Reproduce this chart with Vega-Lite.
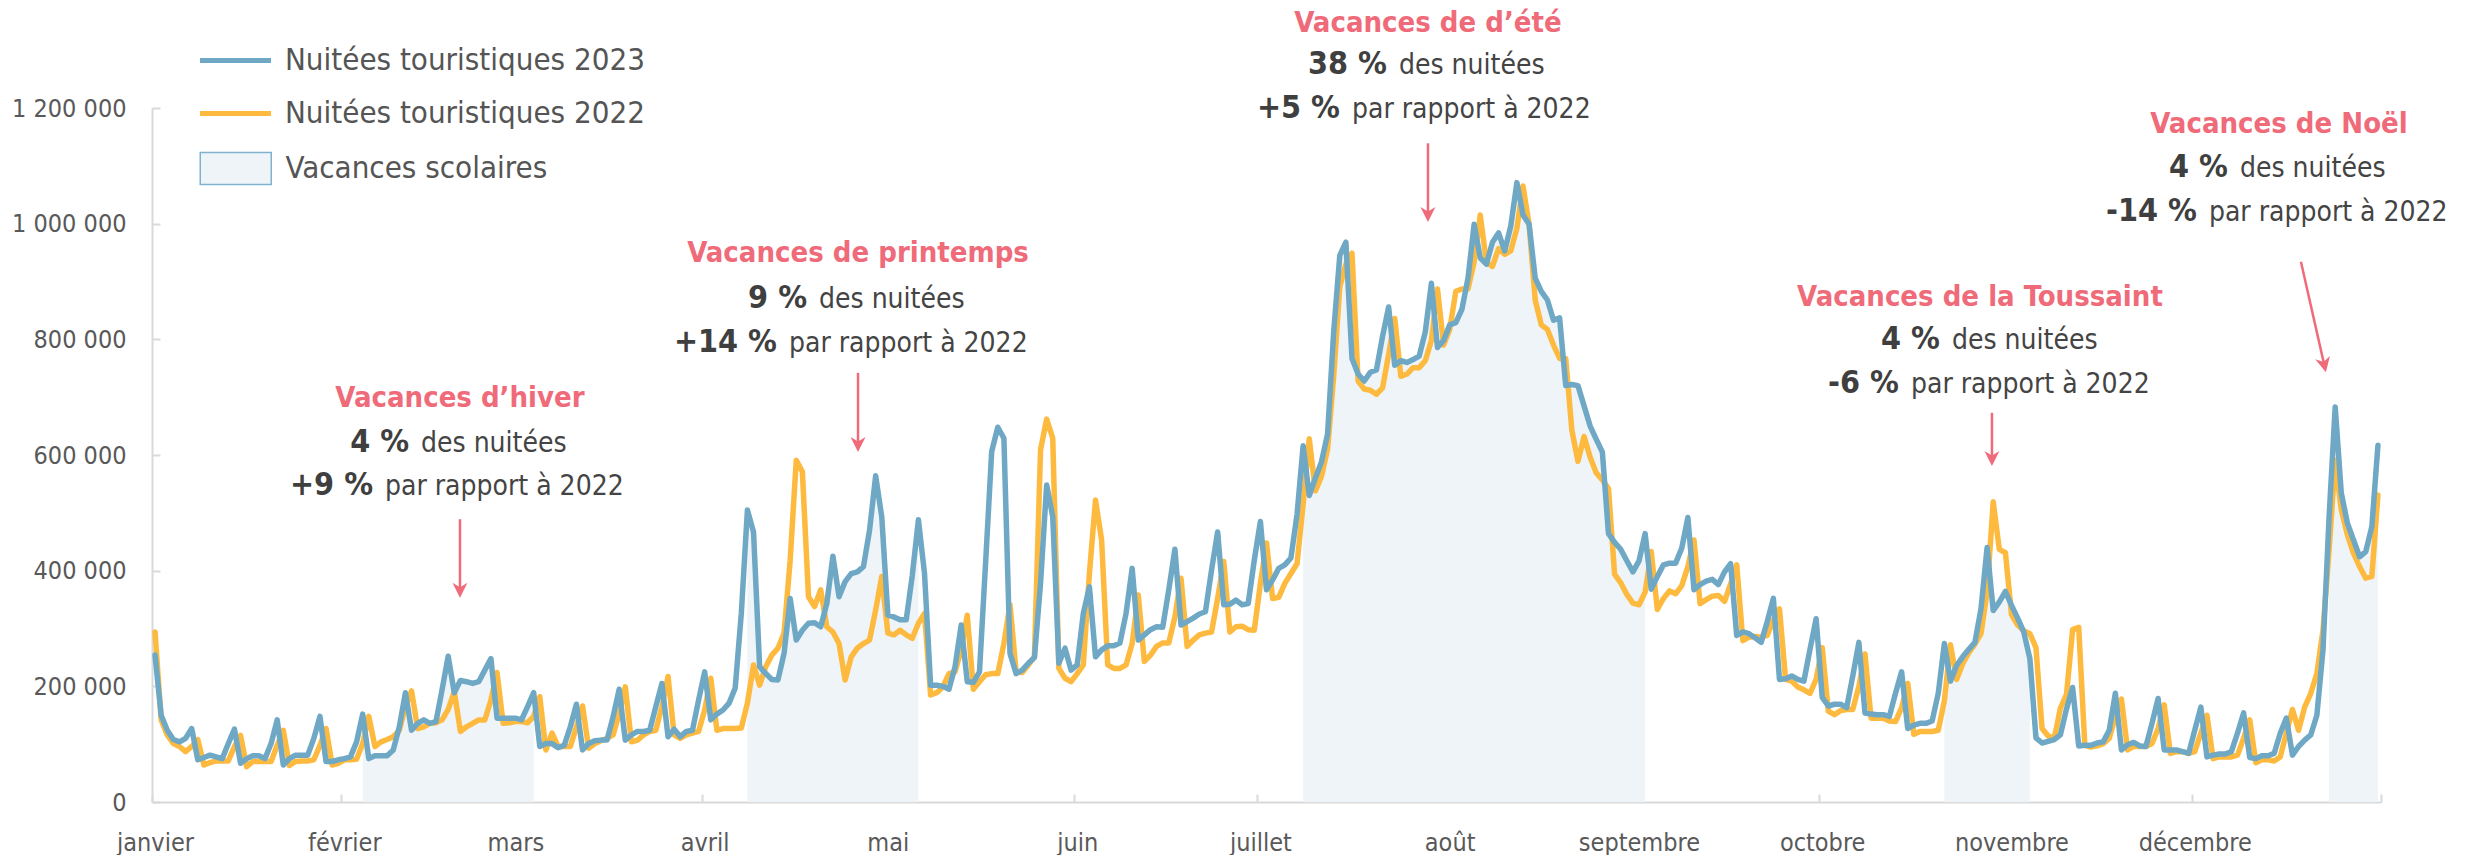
{
"$schema":"https://vega.github.io/schema/vega-lite/v6.json",
"width":2229,"height":694,
"autosize":{"type":"none"},
"padding":{"left":152,"top":108,"right":88,"bottom":53},
"background":"white",
"config":{"view":{"stroke":null},"font":"DejaVu Sans Condensed"},
"datasets":{
"nuitees":[
{"d":"2023-01-01T12:00:00Z","n2023":254000,"n2022":294000},
{"d":"2023-01-02T12:00:00Z","n2023":150000,"n2022":142000},
{"d":"2023-01-03T12:00:00Z","n2023":124000,"n2022":116000},
{"d":"2023-01-04T12:00:00Z","n2023":108000,"n2022":101000},
{"d":"2023-01-05T12:00:00Z","n2023":104000,"n2022":96000},
{"d":"2023-01-06T12:00:00Z","n2023":110000,"n2022":87000},
{"d":"2023-01-07T12:00:00Z","n2023":127000,"n2022":96000},
{"d":"2023-01-08T12:00:00Z","n2023":73000,"n2022":108000},
{"d":"2023-01-09T12:00:00Z","n2023":77000,"n2022":64000},
{"d":"2023-01-10T12:00:00Z","n2023":81000,"n2022":68000},
{"d":"2023-01-11T12:00:00Z","n2023":78000,"n2022":71000},
{"d":"2023-01-12T12:00:00Z","n2023":75000,"n2022":71000},
{"d":"2023-01-13T12:00:00Z","n2023":101000,"n2022":71000},
{"d":"2023-01-14T12:00:00Z","n2023":126000,"n2022":96000},
{"d":"2023-01-15T12:00:00Z","n2023":67000,"n2022":115000},
{"d":"2023-01-16T12:00:00Z","n2023":75000,"n2022":61000},
{"d":"2023-01-17T12:00:00Z","n2023":80000,"n2022":70000},
{"d":"2023-01-18T12:00:00Z","n2023":80000,"n2022":70000},
{"d":"2023-01-19T12:00:00Z","n2023":75000,"n2022":70000},
{"d":"2023-01-20T12:00:00Z","n2023":101000,"n2022":70000},
{"d":"2023-01-21T12:00:00Z","n2023":142000,"n2022":98000},
{"d":"2023-01-22T12:00:00Z","n2023":64000,"n2022":124000},
{"d":"2023-01-23T12:00:00Z","n2023":75000,"n2022":63000},
{"d":"2023-01-24T12:00:00Z","n2023":81000,"n2022":70000},
{"d":"2023-01-25T12:00:00Z","n2023":81000,"n2022":71000},
{"d":"2023-01-26T12:00:00Z","n2023":81000,"n2022":71000},
{"d":"2023-01-27T12:00:00Z","n2023":110000,"n2022":73000},
{"d":"2023-01-28T12:00:00Z","n2023":148000,"n2022":98000},
{"d":"2023-01-29T12:00:00Z","n2023":70000,"n2022":127000},
{"d":"2023-01-30T12:00:00Z","n2023":70000,"n2022":64000},
{"d":"2023-01-31T12:00:00Z","n2023":73000,"n2022":67000},
{"d":"2023-02-01T12:00:00Z","n2023":75000,"n2022":73000},
{"d":"2023-02-02T12:00:00Z","n2023":78000,"n2022":73000},
{"d":"2023-02-03T12:00:00Z","n2023":104000,"n2022":74000},
{"d":"2023-02-04T12:00:00Z","n2023":152000,"n2022":101000,"v":"hiver"},
{"d":"2023-02-05T12:00:00Z","n2023":75000,"n2022":148000,"v":"hiver"},
{"d":"2023-02-06T12:00:00Z","n2023":80000,"n2022":96000,"v":"hiver"},
{"d":"2023-02-07T12:00:00Z","n2023":80000,"n2022":104000,"v":"hiver"},
{"d":"2023-02-08T12:00:00Z","n2023":80000,"n2022":108000,"v":"hiver"},
{"d":"2023-02-09T12:00:00Z","n2023":90000,"n2022":113000,"v":"hiver"},
{"d":"2023-02-10T12:00:00Z","n2023":130000,"n2022":124000,"v":"hiver"},
{"d":"2023-02-11T12:00:00Z","n2023":189000,"n2022":165000,"v":"hiver"},
{"d":"2023-02-12T12:00:00Z","n2023":124000,"n2022":192000,"v":"hiver"},
{"d":"2023-02-13T12:00:00Z","n2023":136000,"n2022":127000,"v":"hiver"},
{"d":"2023-02-14T12:00:00Z","n2023":142000,"n2022":130000,"v":"hiver"},
{"d":"2023-02-15T12:00:00Z","n2023":136000,"n2022":136000,"v":"hiver"},
{"d":"2023-02-16T12:00:00Z","n2023":139000,"n2022":137000,"v":"hiver"},
{"d":"2023-02-17T12:00:00Z","n2023":194000,"n2022":142000,"v":"hiver"},
{"d":"2023-02-18T12:00:00Z","n2023":252000,"n2022":160000,"v":"hiver"},
{"d":"2023-02-19T12:00:00Z","n2023":189000,"n2022":191000,"v":"hiver"},
{"d":"2023-02-20T12:00:00Z","n2023":210000,"n2022":122000,"v":"hiver"},
{"d":"2023-02-21T12:00:00Z","n2023":208000,"n2022":130000,"v":"hiver"},
{"d":"2023-02-22T12:00:00Z","n2023":205000,"n2022":136000,"v":"hiver"},
{"d":"2023-02-23T12:00:00Z","n2023":208000,"n2022":142000,"v":"hiver"},
{"d":"2023-02-24T12:00:00Z","n2023":228000,"n2022":142000,"v":"hiver"},
{"d":"2023-02-25T12:00:00Z","n2023":248000,"n2022":176000,"v":"hiver"},
{"d":"2023-02-26T12:00:00Z","n2023":145000,"n2022":224000,"v":"hiver"},
{"d":"2023-02-27T12:00:00Z","n2023":145000,"n2022":136000,"v":"hiver"},
{"d":"2023-02-28T12:00:00Z","n2023":145000,"n2022":137000,"v":"hiver"},
{"d":"2023-03-01T12:00:00Z","n2023":145000,"n2022":139000,"v":"hiver"},
{"d":"2023-03-02T12:00:00Z","n2023":142000,"n2022":139000,"v":"hiver"},
{"d":"2023-03-03T12:00:00Z","n2023":165000,"n2022":137000,"v":"hiver"},
{"d":"2023-03-04T12:00:00Z","n2023":189000,"n2022":148000,"v":"hiver"},
{"d":"2023-03-05T12:00:00Z","n2023":96000,"n2022":182000},
{"d":"2023-03-06T12:00:00Z","n2023":101000,"n2022":90000},
{"d":"2023-03-07T12:00:00Z","n2023":101000,"n2022":119000},
{"d":"2023-03-08T12:00:00Z","n2023":94000,"n2022":96000},
{"d":"2023-03-09T12:00:00Z","n2023":98000,"n2022":96000},
{"d":"2023-03-10T12:00:00Z","n2023":130000,"n2022":96000},
{"d":"2023-03-11T12:00:00Z","n2023":169000,"n2022":130000},
{"d":"2023-03-12T12:00:00Z","n2023":90000,"n2022":166000},
{"d":"2023-03-13T12:00:00Z","n2023":101000,"n2022":93000},
{"d":"2023-03-14T12:00:00Z","n2023":106000,"n2022":101000},
{"d":"2023-03-15T12:00:00Z","n2023":107000,"n2022":106000},
{"d":"2023-03-16T12:00:00Z","n2023":107000,"n2022":110000},
{"d":"2023-03-17T12:00:00Z","n2023":147000,"n2022":116000},
{"d":"2023-03-18T12:00:00Z","n2023":195000,"n2022":153000},
{"d":"2023-03-19T12:00:00Z","n2023":107000,"n2022":199000},
{"d":"2023-03-20T12:00:00Z","n2023":116000,"n2022":104000},
{"d":"2023-03-21T12:00:00Z","n2023":122000,"n2022":107000},
{"d":"2023-03-22T12:00:00Z","n2023":122000,"n2022":116000},
{"d":"2023-03-23T12:00:00Z","n2023":124000,"n2022":122000},
{"d":"2023-03-24T12:00:00Z","n2023":165000,"n2022":124000},
{"d":"2023-03-25T12:00:00Z","n2023":205000,"n2022":165000},
{"d":"2023-03-26T12:00:00Z","n2023":113000,"n2022":217000},
{"d":"2023-03-27T12:00:00Z","n2023":126000,"n2022":116000},
{"d":"2023-03-28T12:00:00Z","n2023":113000,"n2022":110000},
{"d":"2023-03-29T12:00:00Z","n2023":122000,"n2022":116000},
{"d":"2023-03-30T12:00:00Z","n2023":124000,"n2022":119000},
{"d":"2023-03-31T12:00:00Z","n2023":176000,"n2022":122000},
{"d":"2023-04-01T12:00:00Z","n2023":225000,"n2022":159000},
{"d":"2023-04-02T12:00:00Z","n2023":142000,"n2022":214000},
{"d":"2023-04-03T12:00:00Z","n2023":152000,"n2022":124000},
{"d":"2023-04-04T12:00:00Z","n2023":159000,"n2022":127000},
{"d":"2023-04-05T12:00:00Z","n2023":171000,"n2022":127000},
{"d":"2023-04-06T12:00:00Z","n2023":197000,"n2022":127000},
{"d":"2023-04-07T12:00:00Z","n2023":326000,"n2022":128000},
{"d":"2023-04-08T12:00:00Z","n2023":505000,"n2022":171000,"v":"printemps"},
{"d":"2023-04-09T12:00:00Z","n2023":467000,"n2022":237000,"v":"printemps"},
{"d":"2023-04-10T12:00:00Z","n2023":234000,"n2022":202000,"v":"printemps"},
{"d":"2023-04-11T12:00:00Z","n2023":222000,"n2022":234000,"v":"printemps"},
{"d":"2023-04-12T12:00:00Z","n2023":212000,"n2022":254000,"v":"printemps"},
{"d":"2023-04-13T12:00:00Z","n2023":211000,"n2022":266000,"v":"printemps"},
{"d":"2023-04-14T12:00:00Z","n2023":257000,"n2022":292000,"v":"printemps"},
{"d":"2023-04-15T12:00:00Z","n2023":352000,"n2022":418000,"v":"printemps"},
{"d":"2023-04-16T12:00:00Z","n2023":280000,"n2022":591000,"v":"printemps"},
{"d":"2023-04-17T12:00:00Z","n2023":297000,"n2022":571000,"v":"printemps"},
{"d":"2023-04-18T12:00:00Z","n2023":309000,"n2022":355000,"v":"printemps"},
{"d":"2023-04-19T12:00:00Z","n2023":310000,"n2022":338000,"v":"printemps"},
{"d":"2023-04-20T12:00:00Z","n2023":303000,"n2022":367000,"v":"printemps"},
{"d":"2023-04-21T12:00:00Z","n2023":343000,"n2022":303000,"v":"printemps"},
{"d":"2023-04-22T12:00:00Z","n2023":425000,"n2022":294000,"v":"printemps"},
{"d":"2023-04-23T12:00:00Z","n2023":355000,"n2022":274000,"v":"printemps"},
{"d":"2023-04-24T12:00:00Z","n2023":381000,"n2022":211000,"v":"printemps"},
{"d":"2023-04-25T12:00:00Z","n2023":395000,"n2022":251000,"v":"printemps"},
{"d":"2023-04-26T12:00:00Z","n2023":398000,"n2022":266000,"v":"printemps"},
{"d":"2023-04-27T12:00:00Z","n2023":407000,"n2022":274000,"v":"printemps"},
{"d":"2023-04-28T12:00:00Z","n2023":470000,"n2022":280000,"v":"printemps"},
{"d":"2023-04-29T12:00:00Z","n2023":564000,"n2022":332000,"v":"printemps"},
{"d":"2023-04-30T12:00:00Z","n2023":493000,"n2022":390000,"v":"printemps"},
{"d":"2023-05-01T12:00:00Z","n2023":323000,"n2022":292000,"v":"printemps"},
{"d":"2023-05-02T12:00:00Z","n2023":320000,"n2022":289000,"v":"printemps"},
{"d":"2023-05-03T12:00:00Z","n2023":315000,"n2022":297000,"v":"printemps"},
{"d":"2023-05-04T12:00:00Z","n2023":315000,"n2022":289000,"v":"printemps"},
{"d":"2023-05-05T12:00:00Z","n2023":392000,"n2022":283000,"v":"printemps"},
{"d":"2023-05-06T12:00:00Z","n2023":488000,"n2022":309000,"v":"printemps"},
{"d":"2023-05-07T12:00:00Z","n2023":395000,"n2022":326000},
{"d":"2023-05-08T12:00:00Z","n2023":202000,"n2022":185000},
{"d":"2023-05-09T12:00:00Z","n2023":202000,"n2022":189000},
{"d":"2023-05-10T12:00:00Z","n2023":200000,"n2022":199000},
{"d":"2023-05-11T12:00:00Z","n2023":195000,"n2022":222000},
{"d":"2023-05-12T12:00:00Z","n2023":234000,"n2022":225000},
{"d":"2023-05-13T12:00:00Z","n2023":306000,"n2022":263000},
{"d":"2023-05-14T12:00:00Z","n2023":208000,"n2022":323000},
{"d":"2023-05-15T12:00:00Z","n2023":207000,"n2022":195000},
{"d":"2023-05-16T12:00:00Z","n2023":225000,"n2022":208000},
{"d":"2023-05-17T12:00:00Z","n2023":413000,"n2022":220000},
{"d":"2023-05-18T12:00:00Z","n2023":606000,"n2022":222000},
{"d":"2023-05-19T12:00:00Z","n2023":648000,"n2022":222000},
{"d":"2023-05-20T12:00:00Z","n2023":629000,"n2022":274000},
{"d":"2023-05-21T12:00:00Z","n2023":257000,"n2022":341000},
{"d":"2023-05-22T12:00:00Z","n2023":222000,"n2022":225000},
{"d":"2023-05-23T12:00:00Z","n2023":228000,"n2022":224000},
{"d":"2023-05-24T12:00:00Z","n2023":240000,"n2022":237000},
{"d":"2023-05-25T12:00:00Z","n2023":250000,"n2022":251000},
{"d":"2023-05-26T12:00:00Z","n2023":378000,"n2022":609000},
{"d":"2023-05-27T12:00:00Z","n2023":548000,"n2022":662000},
{"d":"2023-05-28T12:00:00Z","n2023":493000,"n2022":629000},
{"d":"2023-05-29T12:00:00Z","n2023":240000,"n2022":231000},
{"d":"2023-05-30T12:00:00Z","n2023":266000,"n2022":214000},
{"d":"2023-05-31T12:00:00Z","n2023":228000,"n2022":208000},
{"d":"2023-06-01T12:00:00Z","n2023":237000,"n2022":222000},
{"d":"2023-06-02T12:00:00Z","n2023":326000,"n2022":237000},
{"d":"2023-06-03T12:00:00Z","n2023":372000,"n2022":395000},
{"d":"2023-06-04T12:00:00Z","n2023":251000,"n2022":522000},
{"d":"2023-06-05T12:00:00Z","n2023":263000,"n2022":453000},
{"d":"2023-06-06T12:00:00Z","n2023":270000,"n2022":237000},
{"d":"2023-06-07T12:00:00Z","n2023":270000,"n2022":231000},
{"d":"2023-06-08T12:00:00Z","n2023":275000,"n2022":231000},
{"d":"2023-06-09T12:00:00Z","n2023":326000,"n2022":237000},
{"d":"2023-06-10T12:00:00Z","n2023":404000,"n2022":274000},
{"d":"2023-06-11T12:00:00Z","n2023":280000,"n2022":358000},
{"d":"2023-06-12T12:00:00Z","n2023":289000,"n2022":243000},
{"d":"2023-06-13T12:00:00Z","n2023":298000,"n2022":254000},
{"d":"2023-06-14T12:00:00Z","n2023":303000,"n2022":269000},
{"d":"2023-06-15T12:00:00Z","n2023":302000,"n2022":275000},
{"d":"2023-06-16T12:00:00Z","n2023":367000,"n2022":275000},
{"d":"2023-06-17T12:00:00Z","n2023":437000,"n2022":320000},
{"d":"2023-06-18T12:00:00Z","n2023":306000,"n2022":387000},
{"d":"2023-06-19T12:00:00Z","n2023":312000,"n2022":269000},
{"d":"2023-06-20T12:00:00Z","n2023":318000,"n2022":280000},
{"d":"2023-06-21T12:00:00Z","n2023":325000,"n2022":289000},
{"d":"2023-06-22T12:00:00Z","n2023":329000,"n2022":292000},
{"d":"2023-06-23T12:00:00Z","n2023":401000,"n2022":294000},
{"d":"2023-06-24T12:00:00Z","n2023":467000,"n2022":352000},
{"d":"2023-06-25T12:00:00Z","n2023":341000,"n2022":416000},
{"d":"2023-06-26T12:00:00Z","n2023":342000,"n2022":294000},
{"d":"2023-06-27T12:00:00Z","n2023":349000,"n2022":303000},
{"d":"2023-06-28T12:00:00Z","n2023":341000,"n2022":304000},
{"d":"2023-06-29T12:00:00Z","n2023":343000,"n2022":298000},
{"d":"2023-06-30T12:00:00Z","n2023":418000,"n2022":297000},
{"d":"2023-07-01T12:00:00Z","n2023":485000,"n2022":378000},
{"d":"2023-07-02T12:00:00Z","n2023":367000,"n2022":448000},
{"d":"2023-07-03T12:00:00Z","n2023":384000,"n2022":352000},
{"d":"2023-07-04T12:00:00Z","n2023":404000,"n2022":354000},
{"d":"2023-07-05T12:00:00Z","n2023":410000,"n2022":378000},
{"d":"2023-07-06T12:00:00Z","n2023":422000,"n2022":395000},
{"d":"2023-07-07T12:00:00Z","n2023":497000,"n2022":412000},
{"d":"2023-07-08T12:00:00Z","n2023":616000,"n2022":515000,"v":"ete"},
{"d":"2023-07-09T12:00:00Z","n2023":530000,"n2022":628000,"v":"ete"},
{"d":"2023-07-10T12:00:00Z","n2023":560000,"n2022":538000,"v":"ete"},
{"d":"2023-07-11T12:00:00Z","n2023":588000,"n2022":563000,"v":"ete"},
{"d":"2023-07-12T12:00:00Z","n2023":636000,"n2022":610000,"v":"ete"},
{"d":"2023-07-13T12:00:00Z","n2023":813000,"n2022":736000,"v":"ete"},
{"d":"2023-07-14T12:00:00Z","n2023":945000,"n2022":891000,"v":"ete"},
{"d":"2023-07-15T12:00:00Z","n2023":968000,"n2022":930000,"v":"ete"},
{"d":"2023-07-16T12:00:00Z","n2023":767000,"n2022":949000,"v":"ete"},
{"d":"2023-07-17T12:00:00Z","n2023":740000,"n2022":728000,"v":"ete"},
{"d":"2023-07-18T12:00:00Z","n2023":728000,"n2022":714000,"v":"ete"},
{"d":"2023-07-19T12:00:00Z","n2023":743000,"n2022":712000,"v":"ete"},
{"d":"2023-07-20T12:00:00Z","n2023":747000,"n2022":705000,"v":"ete"},
{"d":"2023-07-21T12:00:00Z","n2023":805000,"n2022":716000,"v":"ete"},
{"d":"2023-07-22T12:00:00Z","n2023":856000,"n2022":774000,"v":"ete"},
{"d":"2023-07-23T12:00:00Z","n2023":755000,"n2022":836000,"v":"ete"},
{"d":"2023-07-24T12:00:00Z","n2023":763000,"n2022":736000,"v":"ete"},
{"d":"2023-07-25T12:00:00Z","n2023":760000,"n2022":740000,"v":"ete"},
{"d":"2023-07-26T12:00:00Z","n2023":765000,"n2022":751000,"v":"ete"},
{"d":"2023-07-27T12:00:00Z","n2023":771000,"n2022":751000,"v":"ete"},
{"d":"2023-07-28T12:00:00Z","n2023":813000,"n2022":763000,"v":"ete"},
{"d":"2023-07-29T12:00:00Z","n2023":897000,"n2022":798000,"v":"ete"},
{"d":"2023-07-30T12:00:00Z","n2023":786000,"n2022":887000,"v":"ete"},
{"d":"2023-07-31T12:00:00Z","n2023":798000,"n2022":790000,"v":"ete"},
{"d":"2023-08-01T12:00:00Z","n2023":825000,"n2022":817000,"v":"ete"},
{"d":"2023-08-02T12:00:00Z","n2023":829000,"n2022":883000,"v":"ete"},
{"d":"2023-08-03T12:00:00Z","n2023":852000,"n2022":887000,"v":"ete"},
{"d":"2023-08-04T12:00:00Z","n2023":906000,"n2022":887000,"v":"ete"},
{"d":"2023-08-05T12:00:00Z","n2023":999000,"n2022":934000,"v":"ete"},
{"d":"2023-08-06T12:00:00Z","n2023":941000,"n2022":1015000,"v":"ete"},
{"d":"2023-08-07T12:00:00Z","n2023":930000,"n2022":934000,"v":"ete"},
{"d":"2023-08-08T12:00:00Z","n2023":968000,"n2022":926000,"v":"ete"},
{"d":"2023-08-09T12:00:00Z","n2023":984000,"n2022":957000,"v":"ete"},
{"d":"2023-08-10T12:00:00Z","n2023":953000,"n2022":947000,"v":"ete"},
{"d":"2023-08-11T12:00:00Z","n2023":996000,"n2022":953000,"v":"ete"},
{"d":"2023-08-12T12:00:00Z","n2023":1071000,"n2022":992000,"v":"ete"},
{"d":"2023-08-13T12:00:00Z","n2023":1015000,"n2022":1065000,"v":"ete"},
{"d":"2023-08-14T12:00:00Z","n2023":999000,"n2022":999000,"v":"ete"},
{"d":"2023-08-15T12:00:00Z","n2023":906000,"n2022":868000,"v":"ete"},
{"d":"2023-08-16T12:00:00Z","n2023":883000,"n2022":825000,"v":"ete"},
{"d":"2023-08-17T12:00:00Z","n2023":868000,"n2022":817000,"v":"ete"},
{"d":"2023-08-18T12:00:00Z","n2023":833000,"n2022":790000,"v":"ete"},
{"d":"2023-08-19T12:00:00Z","n2023":837000,"n2022":767000,"v":"ete"},
{"d":"2023-08-20T12:00:00Z","n2023":720000,"n2022":767000,"v":"ete"},
{"d":"2023-08-21T12:00:00Z","n2023":722000,"n2022":643000,"v":"ete"},
{"d":"2023-08-22T12:00:00Z","n2023":720000,"n2022":589000,"v":"ete"},
{"d":"2023-08-23T12:00:00Z","n2023":685000,"n2022":632000,"v":"ete"},
{"d":"2023-08-24T12:00:00Z","n2023":650000,"n2022":596000,"v":"ete"},
{"d":"2023-08-25T12:00:00Z","n2023":627000,"n2022":569000,"v":"ete"},
{"d":"2023-08-26T12:00:00Z","n2023":605000,"n2022":557000,"v":"ete"},
{"d":"2023-08-27T12:00:00Z","n2023":464000,"n2022":542000,"v":"ete"},
{"d":"2023-08-28T12:00:00Z","n2023":449000,"n2022":394000,"v":"ete"},
{"d":"2023-08-29T12:00:00Z","n2023":437000,"n2022":379000,"v":"ete"},
{"d":"2023-08-30T12:00:00Z","n2023":417000,"n2022":359000,"v":"ete"},
{"d":"2023-08-31T12:00:00Z","n2023":398000,"n2022":344000,"v":"ete"},
{"d":"2023-09-01T12:00:00Z","n2023":417000,"n2022":341000,"v":"ete"},
{"d":"2023-09-02T12:00:00Z","n2023":464000,"n2022":363000,"v":"ete"},
{"d":"2023-09-03T12:00:00Z","n2023":368000,"n2022":433000},
{"d":"2023-09-04T12:00:00Z","n2023":390000,"n2022":333000},
{"d":"2023-09-05T12:00:00Z","n2023":410000,"n2022":352000},
{"d":"2023-09-06T12:00:00Z","n2023":413000,"n2022":365000},
{"d":"2023-09-07T12:00:00Z","n2023":413000,"n2022":360000},
{"d":"2023-09-08T12:00:00Z","n2023":439000,"n2022":374000},
{"d":"2023-09-09T12:00:00Z","n2023":492000,"n2022":407000},
{"d":"2023-09-10T12:00:00Z","n2023":367000,"n2022":453000},
{"d":"2023-09-11T12:00:00Z","n2023":376000,"n2022":343000},
{"d":"2023-09-12T12:00:00Z","n2023":382000,"n2022":350000},
{"d":"2023-09-13T12:00:00Z","n2023":385000,"n2022":356000},
{"d":"2023-09-14T12:00:00Z","n2023":376000,"n2022":357000},
{"d":"2023-09-15T12:00:00Z","n2023":398000,"n2022":347000},
{"d":"2023-09-16T12:00:00Z","n2023":412000,"n2022":377000},
{"d":"2023-09-17T12:00:00Z","n2023":288000,"n2022":410000},
{"d":"2023-09-18T12:00:00Z","n2023":294000,"n2022":279000},
{"d":"2023-09-19T12:00:00Z","n2023":291000,"n2022":285000},
{"d":"2023-09-20T12:00:00Z","n2023":284000,"n2022":286000},
{"d":"2023-09-21T12:00:00Z","n2023":276000,"n2022":285000},
{"d":"2023-09-22T12:00:00Z","n2023":312000,"n2022":288000},
{"d":"2023-09-23T12:00:00Z","n2023":352000,"n2022":315000},
{"d":"2023-09-24T12:00:00Z","n2023":212000,"n2022":334000},
{"d":"2023-09-25T12:00:00Z","n2023":213000,"n2022":212000},
{"d":"2023-09-26T12:00:00Z","n2023":218000,"n2022":209000},
{"d":"2023-09-27T12:00:00Z","n2023":212000,"n2022":199000},
{"d":"2023-09-28T12:00:00Z","n2023":209000,"n2022":194000},
{"d":"2023-09-29T12:00:00Z","n2023":264000,"n2022":188000},
{"d":"2023-09-30T12:00:00Z","n2023":317000,"n2022":212000},
{"d":"2023-10-01T12:00:00Z","n2023":181000,"n2022":267000},
{"d":"2023-10-02T12:00:00Z","n2023":166000,"n2022":157000},
{"d":"2023-10-03T12:00:00Z","n2023":169000,"n2022":151000},
{"d":"2023-10-04T12:00:00Z","n2023":169000,"n2022":158000},
{"d":"2023-10-05T12:00:00Z","n2023":163000,"n2022":160000},
{"d":"2023-10-06T12:00:00Z","n2023":218000,"n2022":160000},
{"d":"2023-10-07T12:00:00Z","n2023":276000,"n2022":200000},
{"d":"2023-10-08T12:00:00Z","n2023":154000,"n2022":256000},
{"d":"2023-10-09T12:00:00Z","n2023":152000,"n2022":145000},
{"d":"2023-10-10T12:00:00Z","n2023":151000,"n2022":145000},
{"d":"2023-10-11T12:00:00Z","n2023":151000,"n2022":145000},
{"d":"2023-10-12T12:00:00Z","n2023":148000,"n2022":140000},
{"d":"2023-10-13T12:00:00Z","n2023":188000,"n2022":139000},
{"d":"2023-10-14T12:00:00Z","n2023":225000,"n2022":163000},
{"d":"2023-10-15T12:00:00Z","n2023":127000,"n2022":205000},
{"d":"2023-10-16T12:00:00Z","n2023":133000,"n2022":117000},
{"d":"2023-10-17T12:00:00Z","n2023":136000,"n2022":122000},
{"d":"2023-10-18T12:00:00Z","n2023":136000,"n2022":122000},
{"d":"2023-10-19T12:00:00Z","n2023":140000,"n2022":122000},
{"d":"2023-10-20T12:00:00Z","n2023":188000,"n2022":124000},
{"d":"2023-10-21T12:00:00Z","n2023":274000,"n2022":175000,"v":"toussaint"},
{"d":"2023-10-22T12:00:00Z","n2023":209000,"n2022":272000,"v":"toussaint"},
{"d":"2023-10-23T12:00:00Z","n2023":236000,"n2022":212000,"v":"toussaint"},
{"d":"2023-10-24T12:00:00Z","n2023":251000,"n2022":239000,"v":"toussaint"},
{"d":"2023-10-25T12:00:00Z","n2023":264000,"n2022":258000,"v":"toussaint"},
{"d":"2023-10-26T12:00:00Z","n2023":276000,"n2022":273000,"v":"toussaint"},
{"d":"2023-10-27T12:00:00Z","n2023":334000,"n2022":291000,"v":"toussaint"},
{"d":"2023-10-28T12:00:00Z","n2023":440000,"n2022":364000,"v":"toussaint"},
{"d":"2023-10-29T12:00:00Z","n2023":331000,"n2022":519000,"v":"toussaint"},
{"d":"2023-10-30T12:00:00Z","n2023":346000,"n2022":437000,"v":"toussaint"},
{"d":"2023-10-31T12:00:00Z","n2023":364000,"n2022":431000,"v":"toussaint"},
{"d":"2023-11-01T12:00:00Z","n2023":340000,"n2022":324000,"v":"toussaint"},
{"d":"2023-11-02T12:00:00Z","n2023":318000,"n2022":306000,"v":"toussaint"},
{"d":"2023-11-03T12:00:00Z","n2023":294000,"n2022":296000,"v":"toussaint"},
{"d":"2023-11-04T12:00:00Z","n2023":248000,"n2022":291000,"v":"toussaint"},
{"d":"2023-11-05T12:00:00Z","n2023":111000,"n2022":267000},
{"d":"2023-11-06T12:00:00Z","n2023":102000,"n2022":127000},
{"d":"2023-11-07T12:00:00Z","n2023":105000,"n2022":114000},
{"d":"2023-11-08T12:00:00Z","n2023":108000,"n2022":110000},
{"d":"2023-11-09T12:00:00Z","n2023":116000,"n2022":162000},
{"d":"2023-11-10T12:00:00Z","n2023":161000,"n2022":186000},
{"d":"2023-11-11T12:00:00Z","n2023":198000,"n2022":298000},
{"d":"2023-11-12T12:00:00Z","n2023":97000,"n2022":302000},
{"d":"2023-11-13T12:00:00Z","n2023":98000,"n2022":98000},
{"d":"2023-11-14T12:00:00Z","n2023":98000,"n2022":95000},
{"d":"2023-11-15T12:00:00Z","n2023":102000,"n2022":97000},
{"d":"2023-11-16T12:00:00Z","n2023":104000,"n2022":101000},
{"d":"2023-11-17T12:00:00Z","n2023":124000,"n2022":110000},
{"d":"2023-11-18T12:00:00Z","n2023":188000,"n2022":148000},
{"d":"2023-11-19T12:00:00Z","n2023":90000,"n2022":178000},
{"d":"2023-11-20T12:00:00Z","n2023":99000,"n2022":90000},
{"d":"2023-11-21T12:00:00Z","n2023":103000,"n2022":96000},
{"d":"2023-11-22T12:00:00Z","n2023":97000,"n2022":96000},
{"d":"2023-11-23T12:00:00Z","n2023":96000,"n2022":96000},
{"d":"2023-11-24T12:00:00Z","n2023":136000,"n2022":101000},
{"d":"2023-11-25T12:00:00Z","n2023":179000,"n2022":127000},
{"d":"2023-11-26T12:00:00Z","n2023":90000,"n2022":168000},
{"d":"2023-11-27T12:00:00Z","n2023":90000,"n2022":84000},
{"d":"2023-11-28T12:00:00Z","n2023":90000,"n2022":87000},
{"d":"2023-11-29T12:00:00Z","n2023":87000,"n2022":87000},
{"d":"2023-11-30T12:00:00Z","n2023":84000,"n2022":84000},
{"d":"2023-12-01T12:00:00Z","n2023":124000,"n2022":87000},
{"d":"2023-12-02T12:00:00Z","n2023":164000,"n2022":119000},
{"d":"2023-12-03T12:00:00Z","n2023":78000,"n2022":150000},
{"d":"2023-12-04T12:00:00Z","n2023":81000,"n2022":75000},
{"d":"2023-12-05T12:00:00Z","n2023":83000,"n2022":78000},
{"d":"2023-12-06T12:00:00Z","n2023":83000,"n2022":78000},
{"d":"2023-12-07T12:00:00Z","n2023":87000,"n2022":78000},
{"d":"2023-12-08T12:00:00Z","n2023":119000,"n2022":81000},
{"d":"2023-12-09T12:00:00Z","n2023":154000,"n2022":110000},
{"d":"2023-12-10T12:00:00Z","n2023":77000,"n2022":142000},
{"d":"2023-12-11T12:00:00Z","n2023":75000,"n2022":68000},
{"d":"2023-12-12T12:00:00Z","n2023":80000,"n2022":73000},
{"d":"2023-12-13T12:00:00Z","n2023":80000,"n2022":73000},
{"d":"2023-12-14T12:00:00Z","n2023":84000,"n2022":71000},
{"d":"2023-12-15T12:00:00Z","n2023":119000,"n2022":78000},
{"d":"2023-12-16T12:00:00Z","n2023":145000,"n2022":119000},
{"d":"2023-12-17T12:00:00Z","n2023":81000,"n2022":160000},
{"d":"2023-12-18T12:00:00Z","n2023":96000,"n2022":124000},
{"d":"2023-12-19T12:00:00Z","n2023":107000,"n2022":164000},
{"d":"2023-12-20T12:00:00Z","n2023":116000,"n2022":188000},
{"d":"2023-12-21T12:00:00Z","n2023":150000,"n2022":222000},
{"d":"2023-12-22T12:00:00Z","n2023":263000,"n2022":297000},
{"d":"2023-12-23T12:00:00Z","n2023":493000,"n2022":436000,"v":"noel"},
{"d":"2023-12-24T12:00:00Z","n2023":683000,"n2022":591000,"v":"noel"},
{"d":"2023-12-25T12:00:00Z","n2023":534000,"n2022":505000,"v":"noel"},
{"d":"2023-12-26T12:00:00Z","n2023":482000,"n2022":462000,"v":"noel"},
{"d":"2023-12-27T12:00:00Z","n2023":453000,"n2022":430000,"v":"noel"},
{"d":"2023-12-28T12:00:00Z","n2023":424000,"n2022":407000,"v":"noel"},
{"d":"2023-12-29T12:00:00Z","n2023":433000,"n2022":387000,"v":"noel"},
{"d":"2023-12-30T12:00:00Z","n2023":476000,"n2022":390000,"v":"noel"},
{"d":"2023-12-31T12:00:00Z","n2023":617000,"n2022":531000,"v":"noel"}
],
"titres":[
{"x":"2023-02-20T10:20:00Z","y":683000,"t":"Vacances d’hiver"},
{"x":"2023-04-26T14:40:00Z","y":934000,"t":"Vacances de printemps"},
{"x":"2023-07-28T22:35:00Z","y":1331000,"t":"Vacances de d’été"},
{"x":"2023-10-27T07:55:00Z","y":858000,"t":"Vacances de la Toussaint"},
{"x":"2023-12-15T07:00:00Z","y":1157000,"t":"Vacances de Noël"}
],
"gras":[
{"x":"2023-02-13T01:40:00Z","y":605000,"t":"4 %"},
{"x":"2023-02-07T04:05:00Z","y":531000,"t":"+9 %"},
{"x":"2023-04-19T05:45:00Z","y":854000,"t":"9 %"},
{"x":"2023-04-14T07:40:00Z","y":778000,"t":"+14 %"},
{"x":"2023-07-23T05:00:00Z","y":1259000,"t":"38 %"},
{"x":"2023-07-15T12:15:00Z","y":1183000,"t":"+5 %"},
{"x":"2023-10-21T18:15:00Z","y":783000,"t":"4 %"},
{"x":"2023-10-15T01:10:00Z","y":707000,"t":"-6 %"},
{"x":"2023-12-07T22:05:00Z","y":1081000,"t":"4 %"},
{"x":"2023-12-02T20:10:00Z","y":1005000,"t":"-14 %"}
],
"textes":[
{"x":"2023-02-13T01:40:00Z","y":605000,"t":"des nuitées"},
{"x":"2023-02-07T04:05:00Z","y":531000,"t":"par rapport à 2022"},
{"x":"2023-04-19T05:45:00Z","y":854000,"t":"des nuitées"},
{"x":"2023-04-14T07:40:00Z","y":778000,"t":"par rapport à 2022"},
{"x":"2023-07-23T05:00:00Z","y":1259000,"t":"des nuitées"},
{"x":"2023-07-15T12:15:00Z","y":1183000,"t":"par rapport à 2022"},
{"x":"2023-10-21T18:15:00Z","y":783000,"t":"des nuitées"},
{"x":"2023-10-15T01:10:00Z","y":707000,"t":"par rapport à 2022"},
{"x":"2023-12-07T22:05:00Z","y":1081000,"t":"des nuitées"},
{"x":"2023-12-02T20:10:00Z","y":1005000,"t":"par rapport à 2022"}
],
"fleches":[
{"x":"2023-02-20T10:20:00Z","y":489000,"x2":"2023-02-20T10:20:00Z","y2":362000},
{"x":"2023-04-26T14:40:00Z","y":742000,"x2":"2023-04-26T14:40:00Z","y2":614000},
{"x":"2023-07-28T22:35:00Z","y":1139000,"x2":"2023-07-28T22:35:00Z","y2":1012000},
{"x":"2023-10-29T07:00:00Z","y":673000,"x2":"2023-10-29T07:00:00Z","y2":590000},
{"x":"2023-12-18T21:20:00Z","y":934000,"x2":"2023-12-22T19:10:00Z","y2":751500}
],
"pointes":[
{"x":"2023-02-20T10:20:00Z","y":353000},
{"x":"2023-04-26T14:40:00Z","y":605000},
{"x":"2023-07-28T22:35:00Z","y":1003000},
{"x":"2023-10-29T07:00:00Z","y":581000}
],
"pointeNoel":[
{"x":"2023-12-22T23:30:00Z","y":743000}
]
},
"layer":[
{
"data":{"name":"nuitees"},
"transform":[{"filter":"datum.v === 'hiver'"}],
"mark":{"type":"area"},
"encoding":{
"x":{"field":"d","type":"temporal","title":null,
"scale":{"type":"utc","domain":[{"year":2023,"month":1,"date":1,"utc":true},{"year":2024,"month":1,"date":1,"utc":true}]},
"axis":{"values":[{"year":2023,"month":1,"date":1,"utc":true},{"year":2023,"month":2,"date":1,"utc":true},{"year":2023,"month":3,"date":1,"utc":true},{"year":2023,"month":4,"date":1,"utc":true},{"year":2023,"month":5,"date":1,"utc":true},{"year":2023,"month":6,"date":1,"utc":true},{"year":2023,"month":7,"date":1,"utc":true},{"year":2023,"month":8,"date":1,"utc":true},{"year":2023,"month":9,"date":1,"utc":true},{"year":2023,"month":10,"date":1,"utc":true},{"year":2023,"month":11,"date":1,"utc":true},{"year":2023,"month":12,"date":1,"utc":true},{"year":2024,"month":1,"date":1,"utc":true}],
"labelExpr":"utcyear(datum.value) == 2024 ? '' : ['janvier','février','mars','avril','mai','juin','juillet','août','septembre','octobre','novembre','décembre'][utcmonth(datum.value)]",
"labelFlush":false,"labelOverlap":false,"grid":false,
"domainColor":"#D9D9D9","domainWidth":2,"tickColor":"#D9D9D9","tickWidth":2,"tickSize":-8,
"labelPadding":36,"labelFontSize":25,"labelColor":"#595959","labelFont":"DejaVu Sans Condensed","labelOffset":3,"labelBaseline":"top"}},
"y":{"field":"n2023","type":"quantitative","title":null,
"scale":{"domain":[0,1200000],"nice":false},
"axis":{"values":[0,200000,400000,600000,800000,1000000,1200000],
"labelExpr":"replace(format(datum.value, ','), regexp(',', 'g'), ' ')",
"grid":false,"labelFlush":false,"labelOverlap":false,
"domainColor":"#D9D9D9","domainWidth":2,"tickColor":"#D9D9D9","tickWidth":2,"tickSize":-8,
"labelPadding":34,"labelFontSize":25,"labelColor":"#595959","labelFont":"DejaVu Sans Condensed"}},
"fill":{"datum":"Vacances scolaires","type":"nominal",
"scale":{"domain":["Vacances scolaires"],"range":["#EEF4F7"]},
"legend":{"orient":"none","legendX":47.25,"legendY":24,"title":null,
"symbolType":"M-1,-0.45L1,-0.45L1,0.45L-1,0.45Z","symbolSize":5041,
"symbolStrokeColor":"#7FB3CD","symbolStrokeWidth":1.5,"symbolOpacity":1,
"labelOffset":13.25,"padding":0,"labelLimit":0,
"labelFontSize":31,"labelColor":"#555555","labelFont":"DejaVu Sans Condensed"}}
}
},
{
"data":{"name":"nuitees"},
"transform":[{"filter":"datum.v === 'printemps'"}],
"mark":{"type":"area"},
"encoding":{
"x":{"field":"d","type":"temporal","title":null},
"y":{"field":"n2023","type":"quantitative","title":null},
"fill":{"datum":"Vacances scolaires","type":"nominal"}
}
},
{
"data":{"name":"nuitees"},
"transform":[{"filter":"datum.v === 'ete'"}],
"mark":{"type":"area"},
"encoding":{
"x":{"field":"d","type":"temporal","title":null},
"y":{"field":"n2023","type":"quantitative","title":null},
"fill":{"datum":"Vacances scolaires","type":"nominal"}
}
},
{
"data":{"name":"nuitees"},
"transform":[{"filter":"datum.v === 'toussaint'"}],
"mark":{"type":"area"},
"encoding":{
"x":{"field":"d","type":"temporal","title":null},
"y":{"field":"n2023","type":"quantitative","title":null},
"fill":{"datum":"Vacances scolaires","type":"nominal"}
}
},
{
"data":{"name":"nuitees"},
"transform":[{"filter":"datum.v === 'noel'"}],
"mark":{"type":"area"},
"encoding":{
"x":{"field":"d","type":"temporal","title":null},
"y":{"field":"n2023","type":"quantitative","title":null},
"fill":{"datum":"Vacances scolaires","type":"nominal"}
}
},
{
"data":{"name":"nuitees"},
"mark":{"type":"line","strokeWidth":5.5,"strokeJoin":"round","strokeCap":"round"},
"encoding":{
"x":{"field":"d","type":"temporal","title":null},
"y":{"field":"n2022","type":"quantitative","title":null},
"color":{"datum":"Nuitées touristiques 2022","type":"nominal",
"scale":{"domain":["Nuitées touristiques 2023","Nuitées touristiques 2022"],"range":["#6FA8C5","#FDBA3F"]},
"legend":{"orient":"none","legendX":45.5,"legendY":-85.5,"title":null,"direction":"vertical",
"symbolType":"stroke","symbolSize":5041,"symbolStrokeWidth":5,"symbolOpacity":1,
"rowPadding":-16,"labelOffset":11.5,"padding":0,"labelLimit":0,
"labelFontSize":31,"labelColor":"#555555","labelFont":"DejaVu Sans Condensed"}}
}
},
{
"data":{"name":"nuitees"},
"mark":{"type":"line","strokeWidth":5.5,"strokeJoin":"round","strokeCap":"round"},
"encoding":{
"x":{"field":"d","type":"temporal","title":null},
"y":{"field":"n2023","type":"quantitative","title":null},
"color":{"datum":"Nuitées touristiques 2023","type":"nominal"}
}
},
{
"data":{"name":"titres"},
"mark":{"type":"text","font":"DejaVu Sans Condensed","fontWeight":"bold","fontSize":29,"color":"#EF6B7A","align":"center","baseline":"alphabetic"},
"encoding":{
"x":{"field":"x","type":"temporal","title":null},
"y":{"field":"y","type":"quantitative","title":null},
"text":{"field":"t"}
}
},
{
"data":{"name":"gras"},
"mark":{"type":"text","font":"DejaVu Sans Condensed","fontWeight":"bold","fontSize":32,"color":"#3F3F3F","align":"right","baseline":"alphabetic","dx":-6},
"encoding":{
"x":{"field":"x","type":"temporal","title":null},
"y":{"field":"y","type":"quantitative","title":null},
"text":{"field":"t"}
}
},
{
"data":{"name":"textes"},
"mark":{"type":"text","font":"DejaVu Sans Condensed","fontSize":28,"color":"#444444","align":"left","baseline":"alphabetic","dx":6},
"encoding":{
"x":{"field":"x","type":"temporal","title":null},
"y":{"field":"y","type":"quantitative","title":null},
"text":{"field":"t"}
}
},
{
"data":{"name":"fleches"},
"mark":{"type":"rule","color":"#EF6B7A","strokeWidth":2.5},
"encoding":{
"x":{"field":"x","type":"temporal","title":null},
"y":{"field":"y","type":"quantitative","title":null},
"x2":{"field":"x2"},
"y2":{"field":"y2"}
}
},
{
"data":{"name":"pointes"},
"mark":{"type":"point","shape":"M0,0L-1,-2L0,-1.4L1,-2Z","filled":true,"size":225,"color":"#EF6B7A","opacity":1},
"encoding":{
"x":{"field":"x","type":"temporal","title":null},
"y":{"field":"y","type":"quantitative","title":null}
}
},
{
"data":{"name":"pointeNoel"},
"mark":{"type":"point","shape":"M0,0L-1,-2L0,-1.4L1,-2Z","filled":true,"size":225,"color":"#EF6B7A","opacity":1,"angle":-12.8},
"encoding":{
"x":{"field":"x","type":"temporal","title":null},
"y":{"field":"y","type":"quantitative","title":null}
}
}
]
}
